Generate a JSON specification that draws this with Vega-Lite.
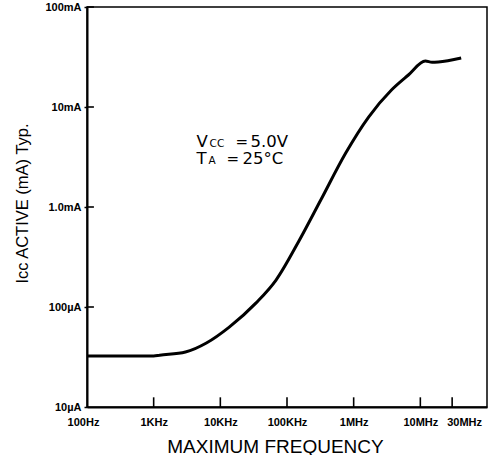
{
  "$schema": "https://vega.github.io/schema/vega-lite/v6.json",
  "autosize": "none",
  "width": 400,
  "height": 400,
  "padding": {"left": 87, "top": 7, "right": 7, "bottom": 48},
  "background": "white",
  "config": {
    "view": {"stroke": "black", "strokeWidth": 1.5},
    "font": "Liberation Sans"
  },
  "datasets": {
    "curve": [
      {"freq": 100, "icc": 0.0324},
      {"freq": 1000, "icc": 0.0324},
      {"freq": 1230, "icc": 0.033},
      {"freq": 3000, "icc": 0.0355},
      {"freq": 6180, "icc": 0.0437},
      {"freq": 13600, "icc": 0.063},
      {"freq": 34400, "icc": 0.11},
      {"freq": 68500, "icc": 0.186},
      {"freq": 151000, "icc": 0.457},
      {"freq": 321000, "icc": 1.175},
      {"freq": 760000, "icc": 3.47},
      {"freq": 1675000, "icc": 7.94},
      {"freq": 3690000, "icc": 14.8},
      {"freq": 6620000, "icc": 20.9},
      {"freq": 11900000, "icc": 28.8},
      {"freq": 15000000, "icc": 28.0},
      {"freq": 18600000, "icc": 28.2},
      {"freq": 41000000, "icc": 30.9}
    ],
    "xticks": [
      {"freq": 1000, "lo": 0.01, "hi": 0.0125},
      {"freq": 10000, "lo": 0.01, "hi": 0.0125},
      {"freq": 100000, "lo": 0.01, "hi": 0.0125},
      {"freq": 1000000, "lo": 0.01, "hi": 0.0125},
      {"freq": 10000000, "lo": 0.01, "hi": 0.0125},
      {"freq": 30000000, "lo": 0.01, "hi": 0.0125}
    ],
    "yticks": [
      {"icc": 0.1, "lo": 100, "hi": 127},
      {"icc": 1, "lo": 100, "hi": 127},
      {"icc": 10, "lo": 100, "hi": 127},
      {"icc": 100, "lo": 100, "hi": 127}
    ]
  },
  "layer": [
    {
      "data": {"name": "curve"},
      "mark": {"type": "line", "color": "black", "strokeWidth": 3, "interpolate": "monotone"},
      "encoding": {
        "x": {
          "field": "freq", "type": "quantitative",
          "scale": {"type": "log", "domain": [100, 100000000], "nice": false},
          "axis": {
            "title": "MAXIMUM FREQUENCY",
            "titleFontSize": 19, "titleFontWeight": "normal", "titleColor": "black",
            "titleX": 188, "titleY": 45, "titleAlign": "center", "titleBaseline": "alphabetic",
            "values": [100, 1000, 10000, 100000, 1000000, 10000000, 30000000],
            "labelExpr": "datum.value == 100 ? '100Hz' : datum.value == 1000 ? '1KHz' : datum.value == 10000 ? '10KHz' : datum.value == 100000 ? '100KHz' : datum.value == 1000000 ? '1MHz' : datum.value == 10000000 ? '10MHz' : '30MHz'",
            "labelFontSize": 11, "labelFontWeight": "bold", "labelColor": "black",
            "labelOffset": {"expr": "datum.value > 20000000 ? 12 : (datum.value < 200 ? -4 : 0)"},
            "labelFlush": false,
            "labelOverlap": false,
            "ticks": false,
            "labelPadding": 9,
            "domainColor": "black", "domainWidth": 2,
            "grid": false
          }
        },
        "y": {
          "field": "icc", "type": "quantitative",
          "scale": {"type": "log", "domain": [0.01, 100], "nice": false},
          "axis": {
            "title": "Icc ACTIVE (mA) Typ.",
            "titleFontSize": 16.5, "titleFontWeight": "normal", "titleColor": "black",
            "titleX": -65, "titleY": 196, "titleAngle": -90,
            "titleAlign": "center", "titleBaseline": "middle",
            "values": [0.01, 0.1, 1, 10, 100],
            "labelExpr": "datum.value == 100 ? '100mA' : datum.value == 10 ? '10mA' : datum.value == 1 ? '1.0mA' : datum.value == 0.1 ? '100µA' : '10µA'",
            "labelFontSize": 11, "labelFontWeight": "bold", "labelColor": "black",
            "labelOverlap": false, "labelFlush": false,
            "tickSize": 3, "tickWidth": 1.5, "tickColor": "black",
            "labelPadding": 3,
            "domainColor": "black", "domainWidth": 2,
            "grid": false
          }
        }
      }
    },
    {
      "data": {"name": "xticks"},
      "mark": {"type": "rule", "color": "black", "strokeWidth": 1.6},
      "encoding": {
        "x": {"field": "freq", "type": "quantitative"},
        "y": {"field": "lo", "type": "quantitative"},
        "y2": {"field": "hi"}
      }
    },
    {
      "data": {"name": "yticks"},
      "mark": {"type": "rule", "color": "black", "strokeWidth": 1.6},
      "encoding": {
        "y": {"field": "icc", "type": "quantitative"},
        "x": {"field": "lo", "type": "quantitative"},
        "x2": {"field": "hi"}
      }
    },
    {
      "data": {"values": [{"freq": 4400, "icc": 3.98, "label": "V"}]},
      "mark": {"type": "text", "align": "left", "baseline": "alphabetic", "font": "DejaVu Sans", "fontSize": 16.5, "color": "black"},
      "encoding": {
        "x": {"field": "freq", "type": "quantitative"},
        "y": {"field": "icc", "type": "quantitative"},
        "text": {"field": "label"}
      }
    },
    {
      "data": {"values": [{"freq": 4400, "icc": 3.98, "label": "CC"}]},
      "mark": {"type": "text", "align": "left", "baseline": "alphabetic", "font": "DejaVu Sans", "fontSize": 10.5, "dx": 13, "color": "black"},
      "encoding": {
        "x": {"field": "freq", "type": "quantitative"},
        "y": {"field": "icc", "type": "quantitative"},
        "text": {"field": "label"}
      }
    },
    {
      "data": {"values": [{"freq": 4400, "icc": 3.98, "label": "="}]},
      "mark": {"type": "text", "align": "left", "baseline": "alphabetic", "font": "DejaVu Sans", "fontSize": 15, "dx": 39, "color": "black"},
      "encoding": {
        "x": {"field": "freq", "type": "quantitative"},
        "y": {"field": "icc", "type": "quantitative"},
        "text": {"field": "label"}
      }
    },
    {
      "data": {"values": [{"freq": 4400, "icc": 3.98, "label": "5.0V"}]},
      "mark": {"type": "text", "align": "left", "baseline": "alphabetic", "font": "DejaVu Sans", "fontSize": 16.5, "dx": 54, "color": "black"},
      "encoding": {
        "x": {"field": "freq", "type": "quantitative"},
        "y": {"field": "icc", "type": "quantitative"},
        "text": {"field": "label"}
      }
    },
    {
      "data": {"values": [{"freq": 4400, "icc": 2.69, "label": "T"}]},
      "mark": {"type": "text", "align": "left", "baseline": "alphabetic", "font": "DejaVu Sans", "fontSize": 16.5, "color": "black"},
      "encoding": {
        "x": {"field": "freq", "type": "quantitative"},
        "y": {"field": "icc", "type": "quantitative"},
        "text": {"field": "label"}
      }
    },
    {
      "data": {"values": [{"freq": 4400, "icc": 2.69, "label": "A"}]},
      "mark": {"type": "text", "align": "left", "baseline": "alphabetic", "font": "DejaVu Sans", "fontSize": 10.5, "dx": 12, "color": "black"},
      "encoding": {
        "x": {"field": "freq", "type": "quantitative"},
        "y": {"field": "icc", "type": "quantitative"},
        "text": {"field": "label"}
      }
    },
    {
      "data": {"values": [{"freq": 4400, "icc": 2.69, "label": "="}]},
      "mark": {"type": "text", "align": "left", "baseline": "alphabetic", "font": "DejaVu Sans", "fontSize": 15, "dx": 30, "color": "black"},
      "encoding": {
        "x": {"field": "freq", "type": "quantitative"},
        "y": {"field": "icc", "type": "quantitative"},
        "text": {"field": "label"}
      }
    },
    {
      "data": {"values": [{"freq": 4400, "icc": 2.69, "label": "25°C"}]},
      "mark": {"type": "text", "align": "left", "baseline": "alphabetic", "font": "DejaVu Sans", "fontSize": 16.5, "dx": 46, "color": "black"},
      "encoding": {
        "x": {"field": "freq", "type": "quantitative"},
        "y": {"field": "icc", "type": "quantitative"},
        "text": {"field": "label"}
      }
    }
  ]
}
